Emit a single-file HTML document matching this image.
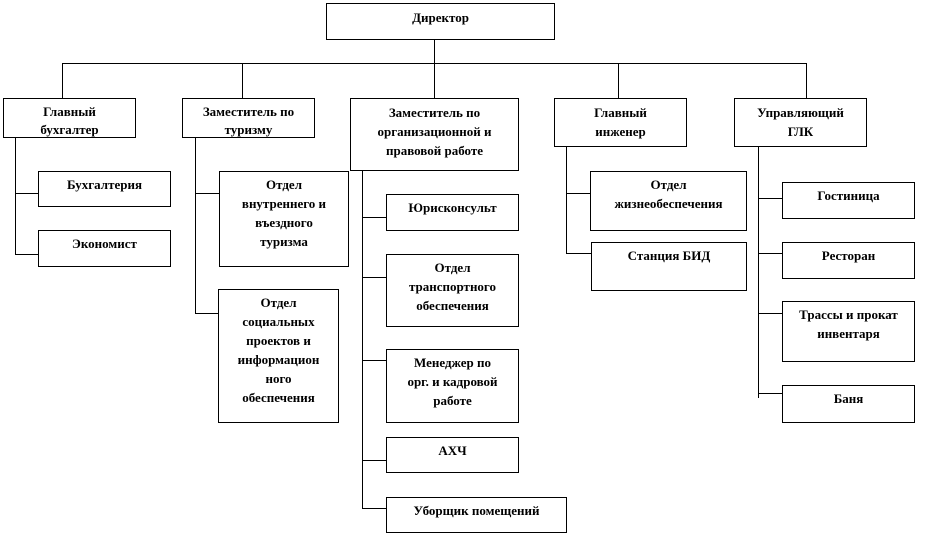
<!DOCTYPE html>
<html><head><meta charset="utf-8"><style>
body{margin:0;width:930px;height:535px;background:#fff;position:relative;overflow:hidden}
.b{position:absolute;box-sizing:border-box;border:1px solid #000;text-align:center;font:bold 13px/19px "Liberation Serif","DejaVu Serif",serif;color:#000;padding-top:3px;background:#fff}
svg{position:absolute;left:0;top:0}
</style></head><body>
<svg width="930" height="535"><g stroke="#000" stroke-width="1" fill="none" shape-rendering="crispEdges">
<path d="M434.5 39V63.5M62.5 63.5H806.5M62.5 63V98M242.5 63V98M434.5 63V98M618.5 63V98M806.5 63V98"/>
<path d="M15.5 137V254.5H38M15.5 193.5H38"/>
<path d="M195.5 137V313.5H219M195.5 193.5H219"/>
<path d="M362.5 170V508.5H386M362.5 217.5H386M362.5 277.5H386M362.5 360.5H386M362.5 460.5H386"/>
<path d="M566.5 146V253.5H591M566.5 193.5H591"/>
<path d="M758.5 146V398M758.5 198.5H782M758.5 253.5H782M758.5 313.5H782M758.5 393.5H782"/>
</g></svg>
<div class="b" style="left:326px;top:3px;width:229px;height:37px;padding-top:4px">Директор</div>
<div class="b" style="left:3px;top:98px;width:133px;height:40px;padding-top:4px;line-height:18px">Главный<br>бухгалтер</div>
<div class="b" style="left:182px;top:98px;width:133px;height:40px;padding-top:4px;line-height:18px">Заместитель по<br>туризму</div>
<div class="b" style="left:350px;top:98px;width:169px;height:73px;padding-top:4px">Заместитель по<br>организационной и<br>правовой работе</div>
<div class="b" style="left:554px;top:98px;width:133px;height:49px;padding-top:4px">Главный<br>инженер</div>
<div class="b" style="left:734px;top:98px;width:133px;height:49px;padding-top:4px">Управляющий<br>ГЛК</div>
<div class="b" style="left:38px;top:171px;width:133px;height:36px">Бухгалтерия</div>
<div class="b" style="left:38px;top:230px;width:133px;height:37px">Экономист</div>
<div class="b" style="left:219px;top:171px;width:130px;height:96px">Отдел<br>внутреннего и<br>въездного<br>туризма</div>
<div class="b" style="left:218px;top:289px;width:121px;height:134px">Отдел<br>социальных<br>проектов и<br>информацион<br>ного<br>обеспечения</div>
<div class="b" style="left:386px;top:194px;width:133px;height:37px">Юрисконсульт</div>
<div class="b" style="left:386px;top:254px;width:133px;height:73px">Отдел<br>транспортного<br>обеспечения</div>
<div class="b" style="left:386px;top:349px;width:133px;height:74px">Менеджер по<br>орг. и кадровой<br>работе</div>
<div class="b" style="left:386px;top:437px;width:133px;height:36px">АХЧ</div>
<div class="b" style="left:386px;top:497px;width:181px;height:36px">Уборщик помещений</div>
<div class="b" style="left:590px;top:171px;width:157px;height:60px">Отдел<br>жизнеобеспечения</div>
<div class="b" style="left:591px;top:242px;width:156px;height:49px">Станция БИД</div>
<div class="b" style="left:782px;top:182px;width:133px;height:37px">Гостиница</div>
<div class="b" style="left:782px;top:242px;width:133px;height:37px">Ресторан</div>
<div class="b" style="left:782px;top:301px;width:133px;height:61px">Трассы и прокат<br>инвентаря</div>
<div class="b" style="left:782px;top:385px;width:133px;height:38px">Баня</div>
</body></html>
